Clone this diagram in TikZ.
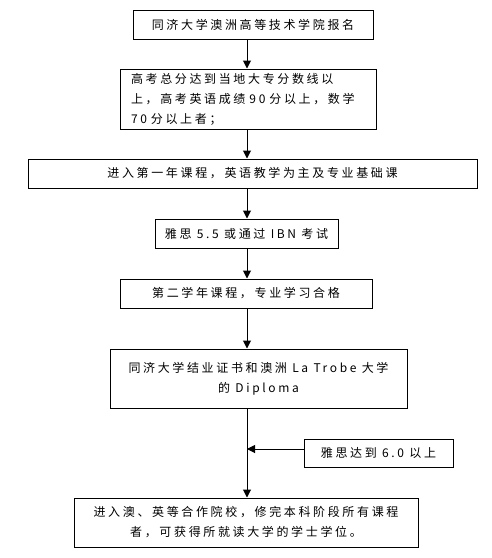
\documentclass[tikz,border=0pt]{standalone}
\usepackage{fontspec}
\setmainfont[LetterSpace=22]{Noto Sans CJK SC}
\usetikzlibrary{arrows.meta}
\begin{document}
\begin{tikzpicture}[x=1pt,y=-1pt,
  box/.style={draw,line width=1pt,inner sep=0pt,font=\fontsize{12}{20}\selectfont},
  arr/.style={line width=1pt,-{Triangle[length=8pt,width=8pt]}}]
\useasboundingbox (0,0) rectangle (492,558);
\node[box,minimum width=240pt,minimum height=29pt] (b1) at (253,24.5) {同济大学澳洲高等技术学院报名};
\node[box,minimum width=256pt,minimum height=60pt,text width=234pt,align=left] (b2) at (248,99) {\mbox{高考总分达到当地大专分数线以}\\\mbox{上，高考英语成绩 90 分以上，数学}\\\mbox{70 分以上者；}};
\node[box,minimum width=449pt,minimum height=29pt] (b3) at (252.5,173.5) {进入第一年课程，英语教学为主及专业基础课};
\node[box,minimum width=183pt,minimum height=29pt] (b4) at (246.5,233.5) {雅思 5.5 或通过 IBN 考试};
\node[box,minimum width=252pt,minimum height=29pt] (b5) at (246,293.5) {第二学年课程，专业学习合格};
\node[box,minimum width=297pt,minimum height=59pt,align=center] (b6) at (258.5,378.5) {同济大学结业证书和澳洲 La Trobe 大学\\的 Diploma};
\node[box,minimum width=149pt,minimum height=28pt] (b7) at (378.5,453) {雅思达到 6.0 以上};
\node[box,minimum width=344pt,minimum height=49pt,align=center] (b8) at (246,522.5) {进入澳、英等合作院校，修完本科阶段所有课程\\者，可获得所就读大学的学士学位。};
\coordinate (ax) at (247,0);
\coordinate (j) at (247,449);
\draw[arr] (b1.south -| ax) -- (b2.north -| ax);
\draw[arr] (b2.south -| ax) -- (b3.north -| ax);
\draw[arr] (b3.south -| ax) -- (b4.north -| ax);
\draw[arr] (b4.south -| ax) -- (b5.north -| ax);
\draw[arr] (b5.south -| ax) -- (b6.north -| ax);
\draw[arr] (b6.south -| ax) -- (b8.north -| ax);
\draw[arr] (b7.west |- j) -- (j);
\end{tikzpicture}
\end{document}
